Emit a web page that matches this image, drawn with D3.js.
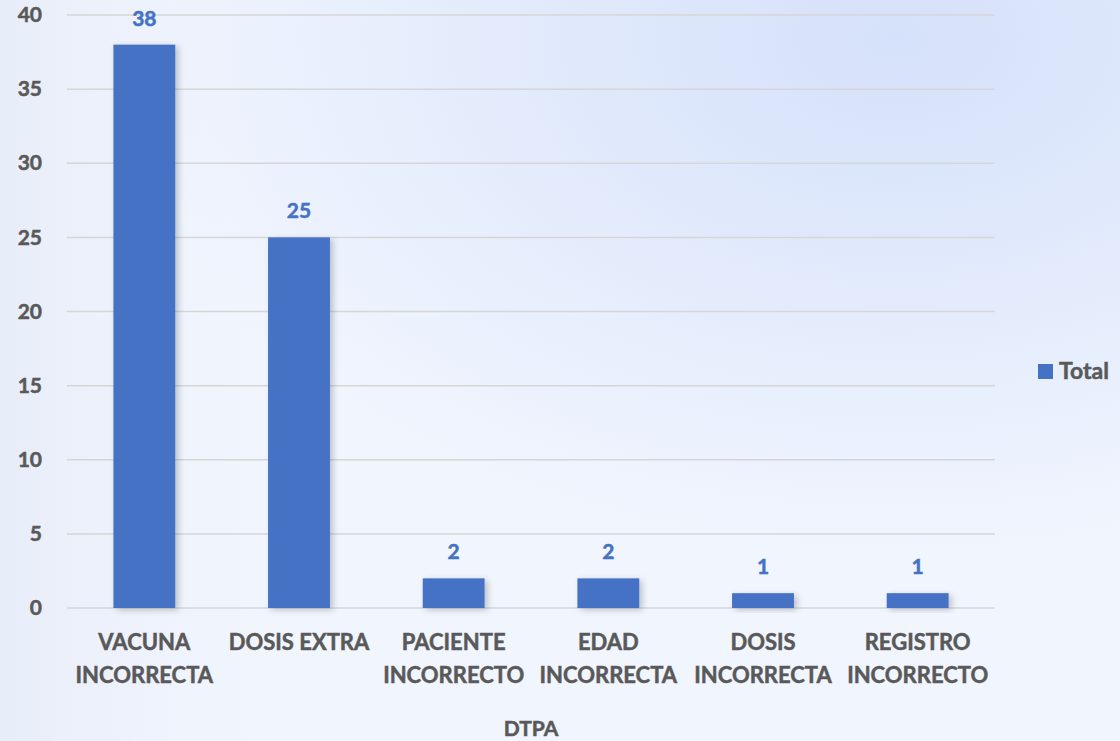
<!DOCTYPE html>
<html>
<head>
<meta charset="utf-8">
<script src="https://cdn.jsdelivr.net/npm/d3@7"></script>
<style>
    body { margin: 0; background: #eef3fd; }
    svg text { font-family: Lato, "Open Sans", sans-serif; font-weight: bold; stroke-width: 0.5px; }
</style>
</head>
<body>
<script>
// chart data
const categories = [
    ['VACUNA', 'INCORRECTA'],
    ['DOSIS EXTRA'],
    ['PACIENTE', 'INCORRECTO'],
    ['EDAD', 'INCORRECTA'],
    ['DOSIS', 'INCORRECTA'],
    ['REGISTRO', 'INCORRECTO']
];
const totals = [38, 25, 2, 2, 1, 1];
const yTicks = [0, 5, 10, 15, 20, 25, 30, 35, 40];
const seriesName = 'Total';
const axisTitle = 'DTPA';

const width = 1120;
const height = 741;
const margin = {top: 15, right: 125, bottom: 133, left: 67};

const svg = d3.select('body')
    .append('svg')
    .attr('width', width)
    .attr('height', height);

const defs = svg.append('defs');

// soft blue background, stronger towards the top right
const bgGrad = defs.append('radialGradient')
    .attr('id', 'bg-glow')
    .attr('cx', '0.8').attr('cy', '0.05').attr('r', '0.7');
bgGrad.append('stop').attr('offset', '0%').attr('stop-color', '#d5e1fa');
bgGrad.append('stop').attr('offset', '55%').attr('stop-color', '#e4ecfc');
bgGrad.append('stop').attr('offset', '100%').attr('stop-color', '#f1f5fe');

const leftGrad = defs.append('linearGradient')
    .attr('id', 'bg-left')
    .attr('x1', 0).attr('x2', 1).attr('y1', 0).attr('y2', 0);
leftGrad.append('stop').attr('offset', '0%').attr('stop-color', '#e6ecf8').attr('stop-opacity', 0.9);
leftGrad.append('stop').attr('offset', '25%').attr('stop-color', '#eef2fc').attr('stop-opacity', 0);

const shadow = defs.append('filter')
    .attr('id', 'bar-shadow')
    .attr('x', '-20%').attr('y', '-20%').attr('width', '150%').attr('height', '150%');
shadow.append('feDropShadow')
    .attr('dx', 3).attr('dy', 2).attr('stdDeviation', 3)
    .attr('flood-color', '#000').attr('flood-opacity', 0.22);

svg.append('rect').attr('width', width).attr('height', height).attr('fill', 'url(#bg-glow)');
svg.append('rect').attr('width', width).attr('height', height).attr('fill', 'url(#bg-left)');

const plotRight = width - margin.right;

const x = d3.scaleBand()
    .domain(d3.range(categories.length))
    .range([margin.left, plotRight])
    .paddingInner(0.6)
    .paddingOuter(0.3);

const y = d3.scaleLinear()
    .domain([0, 40])
    .range([height - margin.bottom, margin.top]);

// gridlines
svg.append('g')
    .selectAll('line')
    .data(yTicks)
    .join('line')
    .attr('x1', margin.left)
    .attr('x2', plotRight)
    .attr('y1', d => y(d))
    .attr('y2', d => y(d))
    .attr('stroke', '#d6d6d6')
    .attr('stroke-width', 1.5);

// y axis labels
const yAxis = svg.append('g')
    .attr('transform', `translate(${margin.left - 25},0)`)
    .call(d3.axisLeft(y).tickValues(yTicks).tickSize(0).tickPadding(0));
yAxis.select('.domain').remove();
yAxis.selectAll('text')
    .attr('fill', '#595959')
    .attr('stroke', '#595959')
    .attr('font-size', 21)
    .attr('font-family', 'Lato, sans-serif');

// bars
svg.append('g')
    .selectAll('rect')
    .data(totals)
    .join('rect')
    .attr('x', (d, i) => x(i))
    .attr('y', d => y(d))
    .attr('width', x.bandwidth())
    .attr('height', d => y(0) - y(d))
    .attr('fill', '#4472c4')
    .attr('filter', 'url(#bar-shadow)');

// value labels
svg.append('g')
    .selectAll('text')
    .data(totals)
    .join('text')
    .attr('x', (d, i) => x(i) + x.bandwidth() / 2)
    .attr('y', d => y(d) - 19)
    .attr('text-anchor', 'middle')
    .attr('fill', '#4472c4')
    .attr('stroke', '#4472c4')
    .attr('font-size', 21)
    .text(d => d);

// category labels
const catLabels = svg.append('g')
    .selectAll('text')
    .data(categories)
    .join('text')
    .attr('x', (d, i) => x(i) + x.bandwidth() / 2)
    .attr('y', y(0) + 42)
    .attr('text-anchor', 'middle')
    .attr('fill', '#595959')
    .attr('stroke', '#595959')
    .attr('font-size', 22);
catLabels.selectAll('tspan')
    .data(d => d)
    .join('tspan')
    .attr('x', function() { return d3.select(this.parentNode).attr('x'); })
    .attr('dy', (d, i) => i === 0 ? 0 : 33)
    .text(d => d);

// axis title
svg.append('text')
    .attr('x', (margin.left + plotRight) / 2)
    .attr('y', 736)
    .attr('text-anchor', 'middle')
    .attr('fill', '#595959')
    .attr('stroke', '#595959')
    .attr('font-size', 21)
    .text(axisTitle);

// legend
const legend = svg.append('g').attr('transform', 'translate(1038,364)');
legend.append('rect')
    .attr('width', 15)
    .attr('height', 15)
    .attr('fill', '#4472c4');
legend.append('text')
    .attr('x', 21)
    .attr('y', 15)
    .attr('fill', '#595959')
    .attr('stroke', '#595959')
    .attr('font-size', 23)
    .text(seriesName);
</script>
</body>
</html>
